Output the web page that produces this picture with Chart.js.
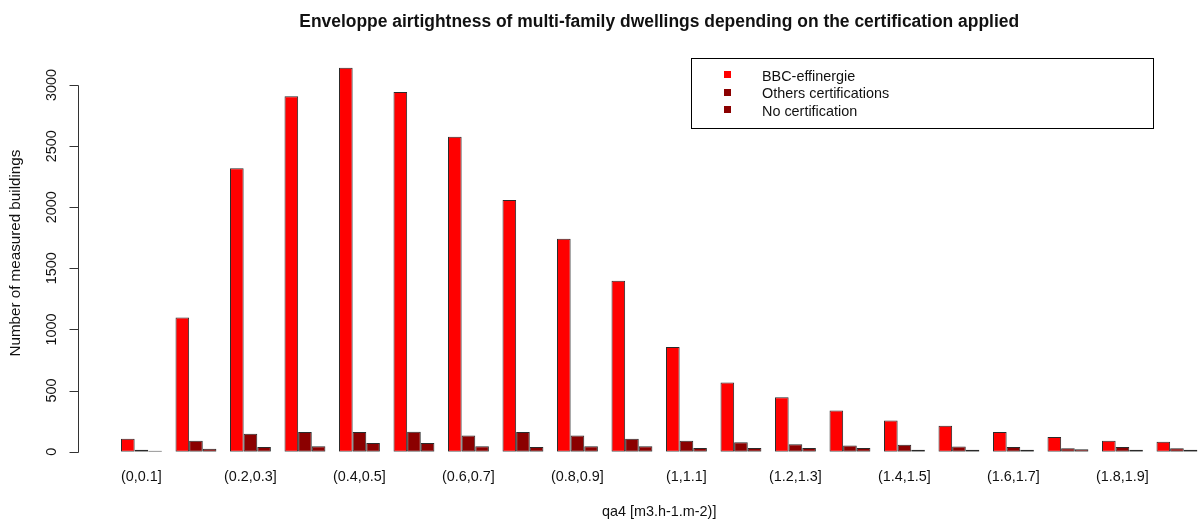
<!DOCTYPE html>
<html>
<head>
<meta charset="utf-8">
<script src="https://cdn.jsdelivr.net/npm/chart.js@4.4.1/dist/chart.umd.min.js"></script>
<style>
html,body{margin:0;padding:0;background:#fff;overflow:hidden;}
#wrap{position:relative;width:1206px;height:525px;}
#chart{position:absolute;left:0;top:0;}
#legend{position:absolute;left:691px;top:58px;width:461px;height:69px;border:1px solid #000;}
.lg-sq{position:absolute;width:7px;height:7px;}
.lg-tx{position:absolute;font-family:"Liberation Sans",Arial,sans-serif;font-size:14.4px;line-height:17px;color:#111;white-space:nowrap;}
</style>
</head>
<body>
<div id="wrap">
  <canvas id="chart" width="1206" height="525"></canvas>
  <div id="legend"></div>
</div>
<script>
// ---- data ----
const categories = ['(0,0.1]','(0.1,0.2]','(0.2,0.3]','(0.3,0.4]','(0.4,0.5]','(0.5,0.6]','(0.6,0.7]','(0.7,0.8]','(0.8,0.9]','(0.9,1]',
                    '(1,1.1]','(1.1,1.2]','(1.2,1.3]','(1.3,1.4]','(1.4,1.5]','(1.5,1.6]','(1.6,1.7]','(1.7,1.8]','(1.8,1.9]','(1.9,2]'];
const seriesNames = ['BBC-effinergie','Others certifications','No certification'];
const bbcValues   = [106,1098,2320,2908,3141,2943,2577,2060,1743,1398,857,566,445,336,255,211,160,120,89,81];
const otherValues = [16,90,146,160,160,163,133,160,133,106,90,76,60,51,57,43,37,27,37,27];
const noCertValues= [8,24,37,45,70,70,45,37,45,45,30,30,30,30,16,16,16,20,16,16];
const seriesColors = ['#FF0000','#8B0000','#8B0000'];
const yTicks = [0,500,1000,1500,2000,2500,3000];
const yMax = 3250;

const FONT = '"Liberation Sans", Arial, sans-serif';
const TXT = '#111';

// R-style y axis: line spanning first..last tick, ticks pointing left
const rAxisPlugin = {
  id: 'rAxis',
  afterDraw(chart) {
    const ys = chart.scales.y;
    const ctx = chart.ctx;
    const ax = Math.round(chart.chartArea.left - 36) + 0.5;
    const vals = ys.ticks.map(t => t.value);
    ctx.save();
    ctx.strokeStyle = '#333';
    ctx.lineWidth = 1;
    ctx.beginPath();
    ctx.moveTo(ax, Math.round(ys.getPixelForValue(vals[0])) + 0.5);
    ctx.lineTo(ax, Math.round(ys.getPixelForValue(vals[vals.length - 1])) + 0.5);
    vals.forEach(v => {
      const p = Math.round(ys.getPixelForValue(v)) + 0.5;
      ctx.moveTo(ax - 9, p);
      ctx.lineTo(ax, p);
    });
    ctx.stroke();
    ctx.restore();
  }
};

const datasets = [bbcValues, otherValues, noCertValues].map((d, i) => ({
  label: seriesNames[i],
  data: d,
  backgroundColor: seriesColors[i],
  borderColor: '#2a2a2a',
  borderWidth: 1,
  borderSkipped: false,
  categoryPercentage: 0.75,
  barPercentage: 1.0
}));

new Chart(document.getElementById('chart'), {
  type: 'bar',
  data: { labels: categories, datasets },
  options: {
    responsive: false,
    animation: false,
    devicePixelRatio: 1,
    layout: { padding: { left: 0, right: 1.8, top: 0, bottom: 0 } },
    plugins: {
      legend: { display: false },
      tooltip: { enabled: false },
      title: {
        display: true,
        fullSize: false,
        text: 'Enveloppe airtightness of multi-family dwellings depending on the certification applied',
        color: TXT,
        font: { family: FONT, size: 17.45, weight: 'bold' },
        padding: { top: 9.5, bottom: 21.5 }
      }
    },
    scales: {
      x: {
        grid: { display: false, drawTicks: false, tickLength: 0 },
        border: { display: false },
        ticks: {
          autoSkip: false,
          maxRotation: 0,
          minRotation: 0,
          padding: 16.7,
          color: TXT,
          font: { family: FONT, size: 14.4 },
          callback: (v, i) => (i % 2 === 0 ? categories[i] : '')
        },
        title: {
          display: true,
          text: 'qa4 [m3.h-1.m-2)]',
          color: TXT,
          font: { family: FONT, size: 14.4 },
          padding: { top: 1.5, bottom: 3.9 }
        }
      },
      y: {
        min: 0,
        max: yMax,
        grid: { display: false, drawTicks: false, tickLength: 0 },
        border: { display: false },
        afterBuildTicks(scale) { scale.ticks = yTicks.map(v => ({ value: v })); },
        ticks: {
          minRotation: 90,
          maxRotation: 90,
          crossAlign: 'center',
          padding: 45.9,
          color: TXT,
          font: { family: FONT, size: 14.4 },
          callback: v => String(v)
        },
        title: {
          display: true,
          text: 'Number of measured buildings',
          color: TXT,
          font: { family: FONT, size: 15.2 },
          padding: { top: 6.4, bottom: 0 }
        },
        afterFit(scale) { scale.width = 114.2; }
      }
    }
  },
  plugins: [rAxisPlugin]
});

// R-style legend box built from the dataset names/colours
const wrap = document.getElementById('wrap');
seriesNames.forEach((name, i) => {
  const cy = 74.3 + 17.7 * i;
  const sq = document.createElement('div');
  sq.className = 'lg-sq';
  sq.style.left = '724px';
  sq.style.top = (cy - 3.5) + 'px';
  sq.style.background = seriesColors[i];
  wrap.appendChild(sq);
  const tx = document.createElement('div');
  tx.className = 'lg-tx';
  tx.style.left = '762px';
  tx.style.top = (cy + 6.7 - 13.5) + 'px';
  tx.textContent = name;
  wrap.appendChild(tx);
});
</script>
</body>
</html>
